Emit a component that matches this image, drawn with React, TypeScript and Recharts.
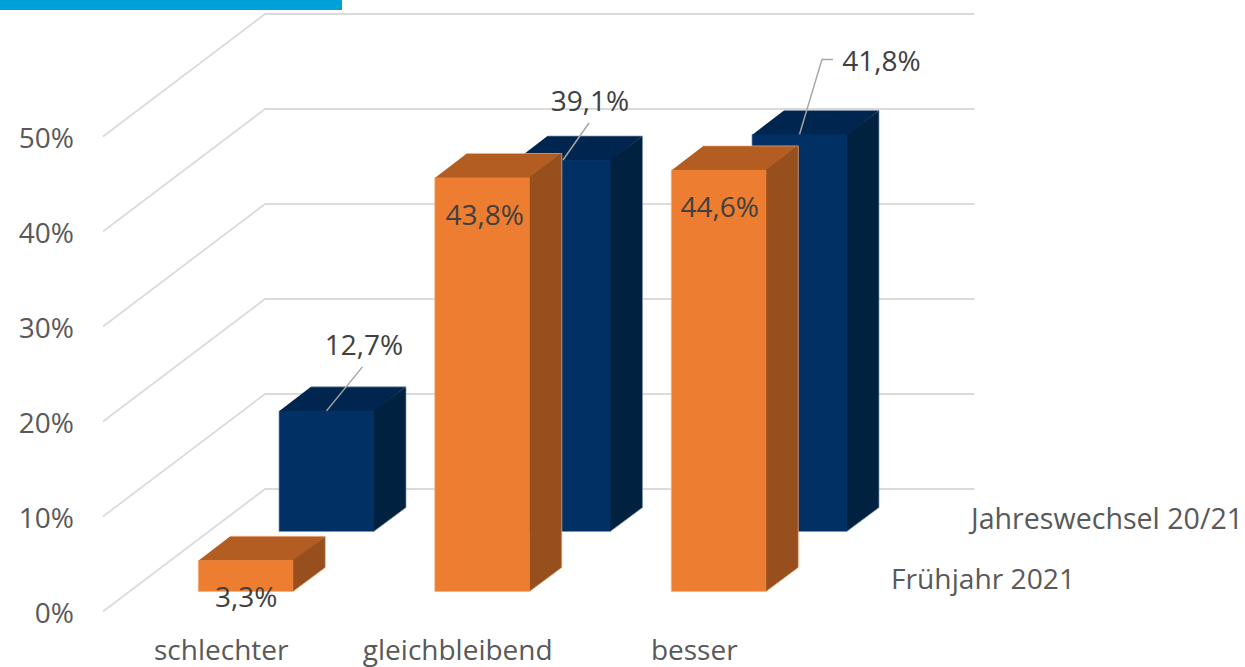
import React from 'react';
import { ComposedChart, Bar, XAxis, YAxis, CartesianGrid, LabelList } from 'recharts';

const categories = ['schlechter', 'gleichbleibend', 'besser'];
const fruehjahr = [3.3, 43.8, 44.6];
const jahreswechsel = [12.7, 39.1, 41.8];
const yTicks = [0, 10, 20, 30, 40, 50];

const FONT = '"Open Sans", sans-serif';

// depth of the fake 3d scene, in px from the front plane
const WALL = { dx: 162, dy: -122.5 };
const FRONT_ROW = { dx: 24.3, dy: -20, squash: 0.995 };
const BACK_ROW = { dx: 105, dy: -80, squash: 1 };
const BOX = { dx: 32, dy: -24 };

const orangeFaces = { front: '#ED7D31', top: '#B35D23', side: '#964F1D', edge: '#F4B183' };
const blueFaces = { front: '#013064', top: '#00264F', side: '#00213F', edge: '#7F93AD' };

// label centre relative to the top middle of the bar's front face
const orangeLabelPos = [
  { dx: 0.5, dy: 36 },
  { dx: 2.5, dy: 37 },
  { dx: 1, dy: 36 },
];
const blueLabelPos = [
  { dx: 37.5, dy: -67 },
  { dx: 27, dy: -60 },
  { dx: 82, dy: -74 },
];
// leader line points, same reference point as above
const blueLeaders = [
  [[0, 0], [36, -44]],
  [[0, 0], [26, -37]],
  [[0, 0], [22.5, -75], [33.5, -75]],
];

const makeBox = (row: typeof FRONT_ROW, faces: typeof orangeFaces) => (props: any) => {
  const { x, y, width, height } = props;
  const l = x + row.dx;
  const r = l + width;
  const b = y + height + row.dy;
  const t = b - height * row.squash;
  return (
    <g>
      <polygon points={`${l},${t + 0.5} ${r},${t + 0.5} ${r + BOX.dx},${t + BOX.dy} ${l + BOX.dx},${t + BOX.dy}`} fill={faces.top} />
      <polygon points={`${r - 0.5},${t} ${r + BOX.dx},${t + BOX.dy} ${r + BOX.dx},${b + BOX.dy} ${r - 0.5},${b}`} fill={faces.side} />
      <rect x={l} y={t} width={width} height={b - t} fill={faces.front} />
      <polyline
        points={`${l},${t} ${l},${b} ${r},${b} ${r + BOX.dx},${b + BOX.dy} ${r + BOX.dx},${t + BOX.dy} ${l + BOX.dx},${t + BOX.dy}`}
        fill="none"
        stroke={faces.edge}
        strokeWidth={0.7}
      />
    </g>
  );
};

const makeLabel = (
  row: typeof FRONT_ROW,
  positions: { dx: number; dy: number }[],
  leaders?: number[][][],
) => (props: any) => {
  const { x, y, width, height, value, index } = props;
  const cx = x + row.dx + width / 2;
  const cy = y + height + row.dy - height * row.squash;
  const pos = positions[index];
  return (
    <g>
      {leaders && (
        <polyline
          points={leaders[index].map(([px, py]) => `${cx + px},${cy + py}`).join(' ')}
          fill="none"
          stroke="#A6A6A6"
          strokeWidth={1.5}
        />
      )}
      <text
        x={cx + pos.dx}
        y={cy + pos.dy}
        textAnchor="middle"
        dominantBaseline="central"
        fontFamily={FONT}
        fontSize={28}
        fill="#404040"
      >
        {String(value).replace('.', ',')}%
      </text>
    </g>
  );
};

const WallLine = (props: any) => {
  const { x1, x2, y1 } = props;
  return (
    <polyline
      points={`${x1},${y1} ${x1 + WALL.dx},${y1 + WALL.dy} ${x2 + WALL.dx},${y1 + WALL.dy}`}
      fill="none"
      stroke="#DBDBDB"
      strokeWidth={1.8}
    />
  );
};

const data = categories.map((name, i) => ({
  name,
  fruehjahr: fruehjahr[i],
  jahreswechsel: jahreswechsel[i],
}));

export default function App() {
  return (
    <div style={{ position: 'absolute', left: 0, top: 0, width: 1245, height: 667, background: '#fff', overflow: 'hidden' }}>
      <div style={{ position: 'absolute', left: 0, top: 0, width: 342, height: 10, background: '#00A0D8' }} />
      <ComposedChart
        width={1245}
        height={667}
        data={data}
        barSize={95}
        barGap={-95}
        margin={{ top: 136.5, right: 432.5, bottom: 0, left: 0 }}
      >
        <CartesianGrid vertical={false} horizontal={(p: any) => <WallLine key={p.key} {...p} />} />
        <XAxis
          dataKey="name"
          height={55.5}
          axisLine={false}
          tickLine={false}
          tickSize={0}
          tickMargin={29}
          tick={{ fontFamily: FONT, fontSize: 28, fill: '#595959' }}
        />
        <YAxis
          domain={[0, 50]}
          ticks={yTicks}
          width={103}
          axisLine={false}
          tickLine={false}
          tickSize={0}
          tickMargin={29}
          tickFormatter={(v: number) => `${v}%`}
          tick={{ fontFamily: FONT, fontSize: 28, fill: '#595959', dy: 2 }}
        />
        <Bar dataKey="jahreswechsel" isAnimationActive={false} shape={makeBox(BACK_ROW, blueFaces)}>
          <LabelList dataKey="jahreswechsel" content={makeLabel(BACK_ROW, blueLabelPos, blueLeaders)} />
        </Bar>
        <Bar dataKey="fruehjahr" isAnimationActive={false} shape={makeBox(FRONT_ROW, orangeFaces)}>
          <LabelList dataKey="fruehjahr" content={makeLabel(FRONT_ROW, orangeLabelPos)} />
        </Bar>
        <text x={971} y={517} dominantBaseline="central" fontFamily={FONT} fontSize={28.6} fill="#595959">
          Jahreswechsel 20/21
        </text>
        <text x={891} y={578} dominantBaseline="central" fontFamily={FONT} fontSize={28.2} fill="#595959">
          Frühjahr 2021
        </text>
      </ComposedChart>
    </div>
  );
}
